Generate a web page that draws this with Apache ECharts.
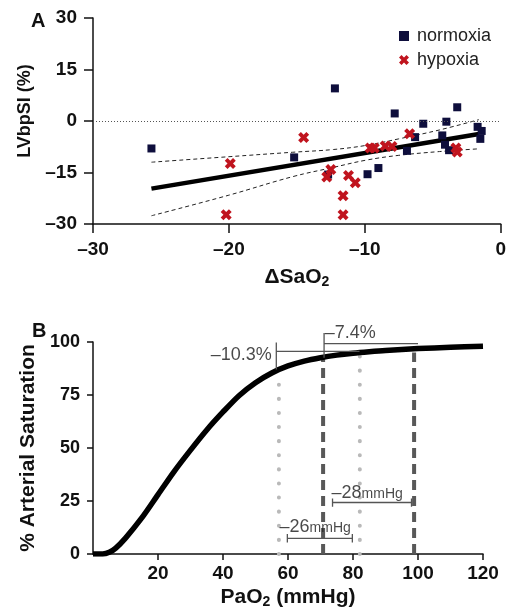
<!DOCTYPE html>
<html>
<head>
<meta charset="utf-8">
<script src="https://cdn.jsdelivr.net/npm/echarts@6.0.0/dist/echarts.min.js"></script>
<style>
  html, body { margin: 0; padding: 0; background: #fff; }
  #chart { width: 509px; height: 611px; }
</style>
</head>
<body>
<div id="chart"></div>
<script>
  // panel A: change in LVbpSI vs change in SaO2
  const normoxia = [
    [-25.7, -8.0], [-15.2, -10.6], [-12.2, 9.5], [-12.7, -15.6], [-9.8, -15.5],
    [-9.0, -13.7], [-7.8, 2.2], [-6.9, -8.7], [-6.3, -4.7], [-5.7, -0.8],
    [-4.3, -4.2], [-4.1, -6.9], [-4.0, -0.2], [-3.8, -8.5], [-3.2, 4.0],
    [-1.7, -1.7], [-1.4, -2.9], [-1.5, -5.2]
  ]
  const hypoxia = [
    [-14.5, -4.8], [-19.9, -12.4], [-20.2, -27.3], [-12.8, -16.3], [-12.5, -14.1],
    [-11.6, -21.8], [-11.6, -27.3], [-11.2, -15.9], [-10.7, -18.0], [-9.6, -7.9],
    [-9.3, -7.9], [-8.5, -7.3], [-8.0, -7.4], [-6.7, -3.7], [-3.3, -7.9], [-3.2, -9.0]
  ]
  const fitLine = [[-25.7, -19.7], [-1.6, -3.8]]
  const ciUpper = [[-25.7, -12.0], [-20, -10.4], [-15.3, -9.1], [-12.3, -8.3], [-9.9, -7.1], [-7.5, -5.2], [-4.5, -2.6], [-1.6, 0.4]]
  const ciLower = [[-25.7, -27.6], [-20, -21.6], [-15.3, -16.2], [-12.3, -13.5], [-9.9, -11.4], [-7.5, -10.0], [-4.5, -8.9], [-1.6, -8.1]]
  const ticksA_x = { min: -30, max: 0, interval: 10 }
  const ticksA_y = { min: -30, max: 30, interval: 15 }

  // panel B: oxyhaemoglobin dissociation curve
  const pao2 = [0, 3, 5, 7, 10, 15, 20, 25, 30, 35, 40, 45, 50, 55, 60, 65, 70, 75, 80, 85, 90, 100, 110, 120]
  const saturation = [0, 0, 0.8, 2.8, 7.5, 17, 28, 39, 49, 58.5, 67, 74.8, 80.8, 85.4, 88.7, 91, 92.6, 93.8, 94.7, 95.4, 96, 96.9, 97.5, 98]
  const dottedLines = [[[57.2, 0], [57.2, 80]], [[82.1, 0], [82.1, 93.3]]]
  const dashedLines = [[[70.8, 0], [70.8, 92.5]], [[98.8, 0], [98.8, 95]]]
  const brackets = [
    [[56.4, 87], [56.4, 99.8], [56.4, 95.6], [82, 95.6]],
    [[71.1, 92.6], [71.1, 104.2], [71.1, 99.2], [100, 99.2]],
    [[73.7, 26.2], [73.7, 22.3], [73.7, 24.3], [98, 24.3], [98, 26.2], [98, 22.3]],
    [[59.8, 9.4], [59.8, 5.4], [59.8, 7.4], [79.8, 7.4], [79.8, 9.4], [79.8, 5.4]]
  ]
  const noteText = ['{n|–10.3%}', '{n|–7.4%}', '{n|–28}{u|mmHg}', '{n|–26}{u|mmHg}']
  const notePos = [[55, 93.7], [71.3, 104], [73.4, 28.9], [57.4, 12.6]]
  const noteAlign = ['right', 'left', 'left', 'left']

  const font = 'Liberation Sans, Arial, sans-serif'
  const dash = v => String(v).replace('-', '–')
  const axisLine = { onZero: false, lineStyle: { color: '#111', width: 1.5 } }

  const series = [
    {
      name: 'normoxia', type: 'scatter', xAxisIndex: 0, yAxisIndex: 0,
      symbol: 'rect', symbolSize: 8, itemStyle: { color: '#0e0e3c', opacity: 1 }, z: 4,
      data: normoxia,
      markLine: {
        silent: true, symbol: 'none', label: { show: false },
        lineStyle: { color: '#555', width: 1, type: [1, 2] },
        data: [{ yAxis: 0 }]
      }
    },
    {
      name: 'hypoxia', type: 'scatter', xAxisIndex: 0, yAxisIndex: 0,
      symbol: 'path://M0,3 L3,0 L6,3 L9,0 L12,3 L9,6 L12,9 L9,12 L6,9 L3,12 L0,9 L3,6 Z',
      symbolSize: 11, itemStyle: { color: '#c0141e', opacity: 1 }, z: 4,
      data: hypoxia
    },
    {
      type: 'line', xAxisIndex: 0, yAxisIndex: 0, symbol: 'none', z: 3,
      lineStyle: { color: '#000', width: 4.5 }, data: fitLine
    },
    {
      type: 'line', xAxisIndex: 0, yAxisIndex: 0, symbol: 'none', smooth: 0.4, z: 3,
      lineStyle: { color: '#222', width: 1, type: [4, 3] }, data: ciUpper
    },
    {
      type: 'line', xAxisIndex: 0, yAxisIndex: 0, symbol: 'none', smooth: 0.4, z: 3,
      lineStyle: { color: '#222', width: 1, type: [4, 3] }, data: ciLower
    }
  ]

  dottedLines.forEach(d => series.push({
    type: 'line', xAxisIndex: 1, yAxisIndex: 1, symbol: 'none', z: 2, data: d,
    lineStyle: { color: '#b9b9b9', width: 4, type: [0.1, 14], cap: 'round' }
  }))
  dashedLines.forEach(d => series.push({
    type: 'line', xAxisIndex: 1, yAxisIndex: 1, symbol: 'none', z: 2, data: d,
    lineStyle: { color: '#585858', width: 4, type: [10, 6] }
  }))
  series.push({
    type: 'line', xAxisIndex: 1, yAxisIndex: 1, symbol: 'none', z: 3,
    smooth: 0.3,
    lineStyle: { color: '#000', width: 5.5 },
    data: pao2.map((x, i) => [x, saturation[i]])
  })
  brackets.forEach(d => series.push({
    type: 'line', xAxisIndex: 1, yAxisIndex: 1, symbol: 'none', z: 4, clip: false, data: d,
    lineStyle: { color: '#555', width: 1.3 }
  }))
  series.push({
    type: 'scatter', xAxisIndex: 1, yAxisIndex: 1, symbolSize: 1, clip: false, silent: true,
    itemStyle: { color: 'transparent' }, z: 5,
    data: notePos.map((p, i) => ({
      value: p, text: noteText[i],
      label: { align: noteAlign[i] }
    })),
    label: {
      show: true, position: 'inside', verticalAlign: 'middle',
      formatter: p => p.data.text,
      rich: {
        n: { fontSize: 18, color: '#1a1a1a', fontFamily: font },
        u: { fontSize: 14, color: '#1a1a1a', fontFamily: font, padding: [2, 0, 0, 0] }
      }
    }
  })

  const chart = echarts.init(document.getElementById('chart'))
  chart.setOption({
    animation: false,
    textStyle: { fontFamily: font },
    title: [
      { text: 'A', left: 26, top: 6, textStyle: { fontSize: 20, fontWeight: 'bold', color: '#111', fontFamily: font } },
      { text: 'B', left: 27, top: 316, textStyle: { fontSize: 20, fontWeight: 'bold', color: '#111', fontFamily: font } }
    ],
    legend: {
      orient: 'vertical', left: 394, top: 22, itemWidth: 10, itemHeight: 10, itemGap: 6,
      data: ['normoxia', 'hypoxia'],
      textStyle: { fontSize: 18, color: '#222', fontFamily: font, padding: [0, 0, 0, 3] }
    },
    grid: [
      { left: 93, top: 18, width: 408, height: 206 },
      { left: 93, top: 342, width: 390, height: 212 }
    ],
    xAxis: [
      {
        gridIndex: 0, type: 'value', ...ticksA_x,
        name: '{a|ΔSaO}{s|2}', nameLocation: 'middle', nameGap: 42,
        nameTextStyle: {
          rich: {
            a: { fontSize: 21, fontWeight: 'bold', color: '#111', fontFamily: font },
            s: { fontSize: 14, fontWeight: 'bold', color: '#111', fontFamily: font, padding: [9, 0, 0, 0] }
          }
        },
        axisLine, axisTick: { length: 9, lineStyle: { color: '#111', width: 1.5 } },
        axisLabel: { fontSize: 19, fontWeight: 'bold', color: '#111', margin: 16, formatter: dash },
        splitLine: { show: false }
      },
      {
        gridIndex: 1, type: 'value', min: 0, max: 120, interval: 20,
        name: '{a|PaO}{s|2}{a| (mmHg)}', nameLocation: 'middle', nameGap: 32,
        nameTextStyle: {
          rich: {
            a: { fontSize: 21, fontWeight: 'bold', color: '#111', fontFamily: font },
            s: { fontSize: 14, fontWeight: 'bold', color: '#111', fontFamily: font, padding: [9, 0, 0, 0] }
          }
        },
        axisLine, axisTick: { length: 6, lineStyle: { color: '#111', width: 1.5 } },
        axisLabel: { fontSize: 19, fontWeight: 'bold', color: '#111', margin: 10, showMinLabel: false },
        splitLine: { show: false }
      }
    ],
    yAxis: [
      {
        gridIndex: 0, type: 'value', ...ticksA_y,
        name: 'LVbpSI (%)', nameLocation: 'middle', nameGap: 56,
        nameTextStyle: { fontSize: 18, fontWeight: 'bold', color: '#111', padding: [0, 0, 0, 20] },
        axisLine, axisTick: { length: 9, lineStyle: { color: '#111', width: 1.5 } },
        axisLabel: { fontSize: 19, fontWeight: 'bold', color: '#111', margin: 16, formatter: dash },
        splitLine: { show: false }
      },
      {
        gridIndex: 1, type: 'value', min: 0, max: 100, interval: 25,
        name: '% Arterial Saturation', nameLocation: 'middle', nameGap: 50,
        nameTextStyle: { fontSize: 21, fontWeight: 'bold', color: '#111' },
        axisLine, axisTick: { length: 6, lineStyle: { color: '#111', width: 1.5 } },
        axisLabel: { fontSize: 18, fontWeight: 'bold', color: '#111', margin: 13 },
        splitLine: { show: false }
      }
    ],
    series
  })
</script>
</body>
</html>
